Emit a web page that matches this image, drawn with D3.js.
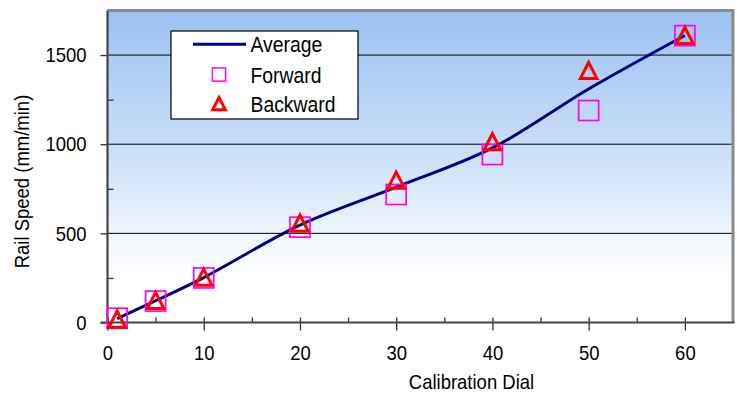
<!DOCTYPE html>
<html>
<head>
<meta charset="utf-8">
<title>Rail Speed vs Calibration Dial</title>
<script src="https://d3js.org/d3.v7.min.js"></script>
<style>
    body { margin: 0; background: #fff; }
    text { font-family: "Liberation Sans", Arial, sans-serif; fill: #000; }
    .grid line { stroke: #000; stroke-width: 1; }
    .axis path { display: none; }
    .axis line { stroke: #333; stroke-width: 1.3; }
</style>
</head>
<body>
<div id="chart"></div>
<script>
// readings
var dial = [1, 5, 10, 20, 30, 40, 50, 60];
var forward = [24, 120, 250, 535, 718, 942, 1189, 1609];
var backward = [20, 125, 255, 558, 800, 1015, 1415, 1611];
var average = [22, 122, 252, 546, 759, 979, 1310, 1610];

var xTicks = [0, 10, 20, 30, 40, 50, 60];
var xMinor = [5, 15, 25, 35, 45, 55];
var yTicks = [0, 500, 1000, 1500];
var yMinor = [250, 750, 1250];

var W = 737, H = 394;
var pLeft = 107.5, pRight = 733, pTop = 10.5, pBottom = 322.5;

var svg = d3.select("#chart").append("svg")
    .attr("width", W).attr("height", H);

var x = d3.scaleLinear().domain([0, 65]).range([pLeft, pRight]);
var y = d3.scaleLinear().domain([0, 1750]).range([pBottom, pTop]);

// background gradient
var grad = svg.append("defs").append("linearGradient")
    .attr("id", "bg").attr("x1", 0).attr("y1", 0).attr("x2", 0).attr("y2", 1);
grad.append("stop").attr("offset", "0").attr("stop-color", "#9bc1f2");
grad.append("stop").attr("offset", "0.45").attr("stop-color", "#cadff8");
grad.append("stop").attr("offset", "0.75").attr("stop-color", "#f3f8fe");
grad.append("stop").attr("offset", "0.85").attr("stop-color", "#ffffff");

svg.append("rect")
    .attr("x", pLeft).attr("y", pTop)
    .attr("width", pRight - pLeft).attr("height", pBottom - pTop)
    .attr("fill", "url(#bg)");

// gridlines
svg.append("g").attr("class", "grid")
    .selectAll("line").data(yTicks.filter(function(d){ return d > 0; }))
    .enter().append("line")
    .attr("x1", pLeft).attr("x2", pRight)
    .attr("y1", function(d){ return y(d); }).attr("y2", function(d){ return y(d); });

// frame: top and right in grey
svg.append("path")
    .attr("d", "M" + pLeft + "," + pTop + "H" + pRight + "V" + pBottom)
    .attr("fill", "none").attr("stroke", "#8a8a8a").attr("stroke-width", 3);

// axes
svg.append("g").attr("class", "axis")
    .attr("transform", "translate(" + pLeft + ",0)")
    .call(d3.axisLeft(y).tickValues(yTicks).tickSize(7).tickPadding(14).tickFormat(d3.format("d")));
svg.append("g").attr("class", "axis")
    .attr("transform", "translate(" + pLeft + ",0)")
    .call(d3.axisRight(y).tickValues(yMinor).tickSize(6).tickFormat(""));

svg.append("g").attr("class", "axis")
    .attr("transform", "translate(0," + pBottom + ")")
    .call(d3.axisBottom(x).tickValues(xTicks).tickSize(8).tickPadding(14.5).tickFormat(d3.format("d")));
svg.append("g").attr("class", "axis")
    .attr("transform", "translate(0," + pBottom + ")")
    .call(d3.axisTop(x).tickValues(xTicks.concat(xMinor)).tickSize(5).tickFormat(""));

svg.selectAll(".axis text").style("font-size", "21px").attr("fill", "#000");

// axis lines
svg.append("line")
    .attr("x1", pLeft).attr("x2", pLeft).attr("y1", pTop).attr("y2", pBottom)
    .attr("stroke", "#444").attr("stroke-width", 2.2);
svg.append("line")
    .attr("x1", pLeft - 7).attr("x2", pRight + 1.5).attr("y1", pBottom).attr("y2", pBottom)
    .attr("stroke", "#444").attr("stroke-width", 2.2);

// axis titles
svg.append("text")
    .attr("x", 471.5).attr("y", 389)
    .attr("text-anchor", "middle")
    .style("font-size", "21px")
    .text("Calibration Dial");
svg.append("text")
    .attr("transform", "translate(28.5,181.5) rotate(-90)")
    .attr("text-anchor", "middle")
    .style("font-size", "21px")
    .text("Rail Speed (mm/min)");

// average line
var line = d3.line()
    .x(function(d, i){ return x(dial[i]); })
    .y(function(d){ return y(d); })
    .curve(d3.curveCatmullRom.alpha(0.5));

svg.append("path")
    .datum(average)
    .attr("d", line)
    .attr("fill", "none")
    .attr("stroke", "#000080")
    .attr("stroke-width", 3);

function triangle(s) {
    return "M0," + (-s * 0.95) + "L" + s + "," + s + "L" + (-s) + "," + s + "Z";
}

// forward squares
svg.append("g").selectAll("rect")
    .data(forward).enter().append("rect")
    .attr("x", function(d, i){ return x(dial[i]) - 10; })
    .attr("y", function(d){ return y(d) - 10; })
    .attr("width", 20).attr("height", 20)
    .attr("fill", "none").attr("stroke", "#ff00ff").attr("stroke-width", 1.7);

// backward triangles
svg.append("g").selectAll("path")
    .data(backward).enter().append("path")
    .attr("transform", function(d, i){ return "translate(" + x(dial[i]) + "," + y(d) + ")"; })
    .attr("d", triangle(8.3))
    .attr("fill", "none").attr("stroke", "#ff0000").attr("stroke-width", 3);

// legend
var lg = svg.append("g");
lg.append("rect")
    .attr("x", 171).attr("y", 31).attr("width", 187).attr("height", 88)
    .attr("fill", "#fff").attr("stroke", "#000").attr("stroke-width", 1.2);
var rows = [44.3, 74.5, 103.5];
var names = ["Average", "Forward", "Backward"];
lg.append("line")
    .attr("x1", 193).attr("x2", 246).attr("y1", rows[0]).attr("y2", rows[0])
    .attr("stroke", "#000080").attr("stroke-width", 3);
lg.append("rect")
    .attr("x", 219 - 6.6).attr("y", rows[1] - 6.6).attr("width", 13.2).attr("height", 13.2)
    .attr("fill", "none").attr("stroke", "#ff00ff").attr("stroke-width", 1.5);
lg.append("path")
    .attr("transform", "translate(219," + rows[2] + ")")
    .attr("d", triangle(6.3))
    .attr("fill", "none").attr("stroke", "#ff0000").attr("stroke-width", 3);
lg.selectAll("text.lbl")
    .data(names).enter().append("text")
    .attr("class", "lbl")
    .attr("x", 250.5)
    .attr("y", function(d, i){ return rows[i] + 8; })
    .style("font-size", "22px")
    .text(function(d){ return d; });

// the original font is narrower than Arial: squeeze every label
svg.selectAll("text").each(function() {
    var w = this.getComputedTextLength();
    if (w > 0) {
        d3.select(this)
            .attr("textLength", w * 0.88)
            .attr("lengthAdjust", "spacingAndGlyphs");
    }
});
</script>
</body>
</html>
